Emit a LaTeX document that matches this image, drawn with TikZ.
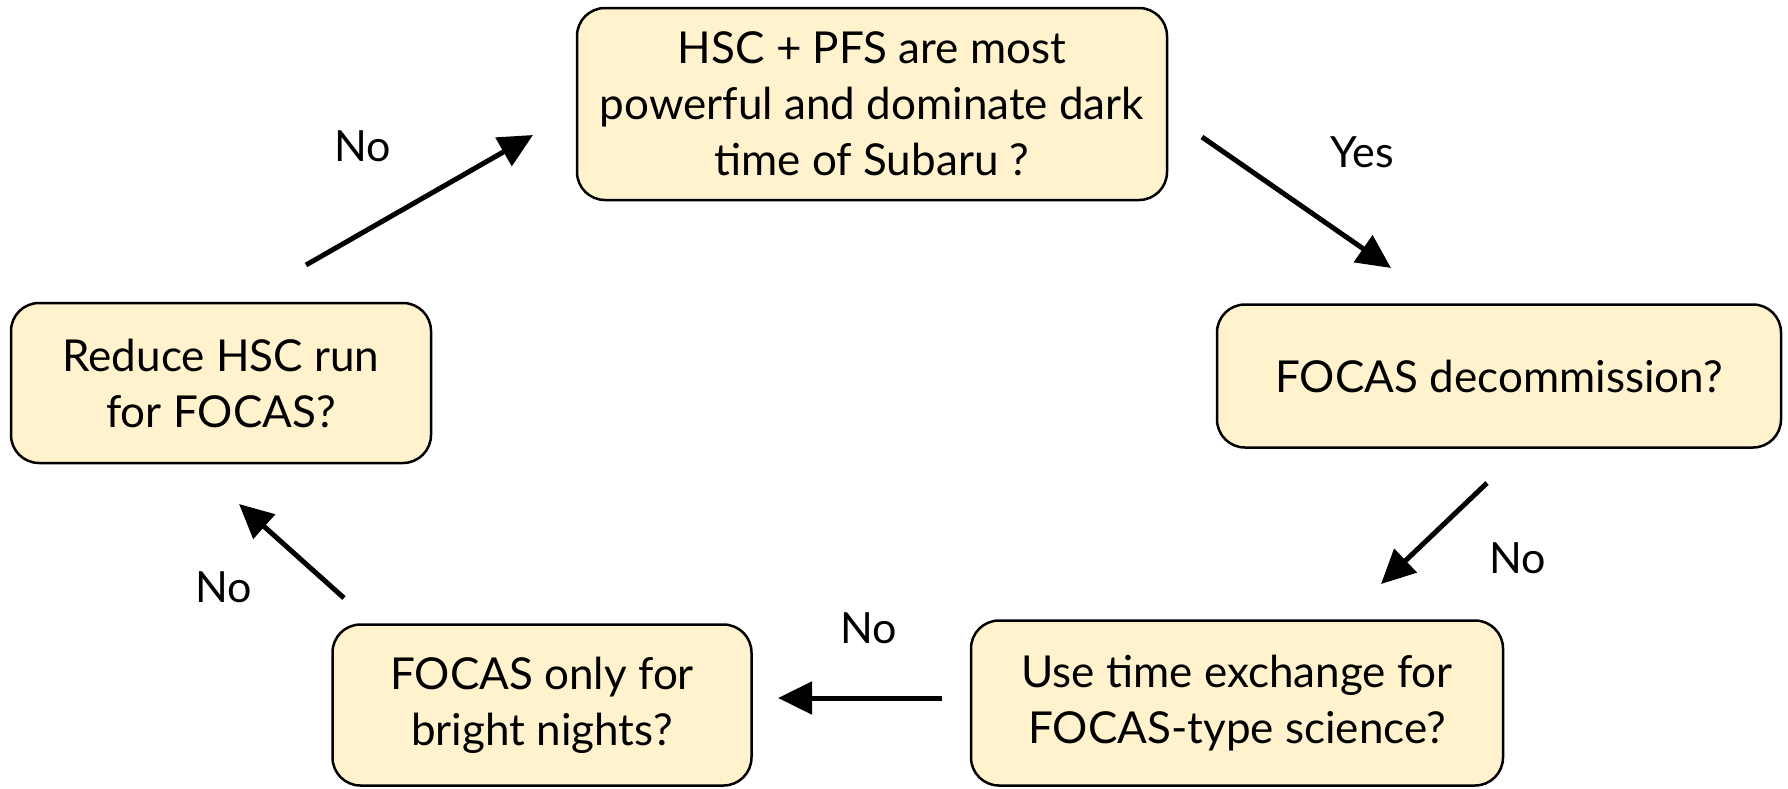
\documentclass[tikz,border=0pt]{standalone}
\usepackage{fontspec}
\setmainfont{Lato}
\usetikzlibrary{arrows.meta}
\definecolor{boxfill}{RGB}{255,242,204}
\tikzset{
  qbox/.style={draw=black, fill=boxfill, line width=2.5pt, rounded corners=28pt,
    align=center, inner sep=0pt, font=\fontsize{44}{56}\selectfont},
  flow/.style={line width=5pt, -{Triangle[length=34pt,width=32pt]}},
  lbl/.style={font=\fontsize{43}{50}\selectfont, inner sep=0pt}
}
\begin{document}
\begin{tikzpicture}[x=1pt,y=-1pt]
\useasboundingbox (0,0) rectangle (1788,788);
\node[qbox, minimum width=590pt, minimum height=192pt] (top) at (872,104)
  {HSC + PFS are most\\powerful and dominate dark\\time of Subaru ?};
\node[qbox, minimum width=564pt, minimum height=143pt] (dec) at (1499,376)
  {FOCAS decommission?};
\node[qbox, minimum width=420pt, minimum height=160pt] (red) at (221,383)
  {Reduce HSC run\\for FOCAS?};
\node[qbox, minimum width=419pt, minimum height=161pt] (bri) at (542,705)
  {FOCAS only for\\bright nights?};
\node[qbox, minimum width=532pt, minimum height=165pt] (exc) at (1237,703)
  {Use time exchange for\\FOCAS-type science?};

\coordinate (a1s) at (306,265); \coordinate (a1e) at (533,135);
\coordinate (a2s) at (1202,137); \coordinate (a2e) at (1391,268);
\coordinate (a3s) at (1487,483); \coordinate (a3e) at (1381,584);
\coordinate (a4s) at (942,698); \coordinate (a4e) at (778,698);
\coordinate (a5s) at (344,598); \coordinate (a5e) at (239,504);

\draw[flow] (a1s) -- (a1e);
\draw[flow] (a2s) -- (a2e);
\draw[flow] (a3s) -- (a3e);
\draw[flow] (a4s) -- (a4e);
\draw[flow] (a5s) -- (a5e);

\node[lbl] (l1) at (363,146) {No};
\node[lbl] (l2) at (1362,152) {Yes};
\node[lbl] (l3) at (1518,558) {No};
\node[lbl] (l4) at (869,628) {No};
\node[lbl] (l5) at (224,587) {No};
\end{tikzpicture}
\end{document}
